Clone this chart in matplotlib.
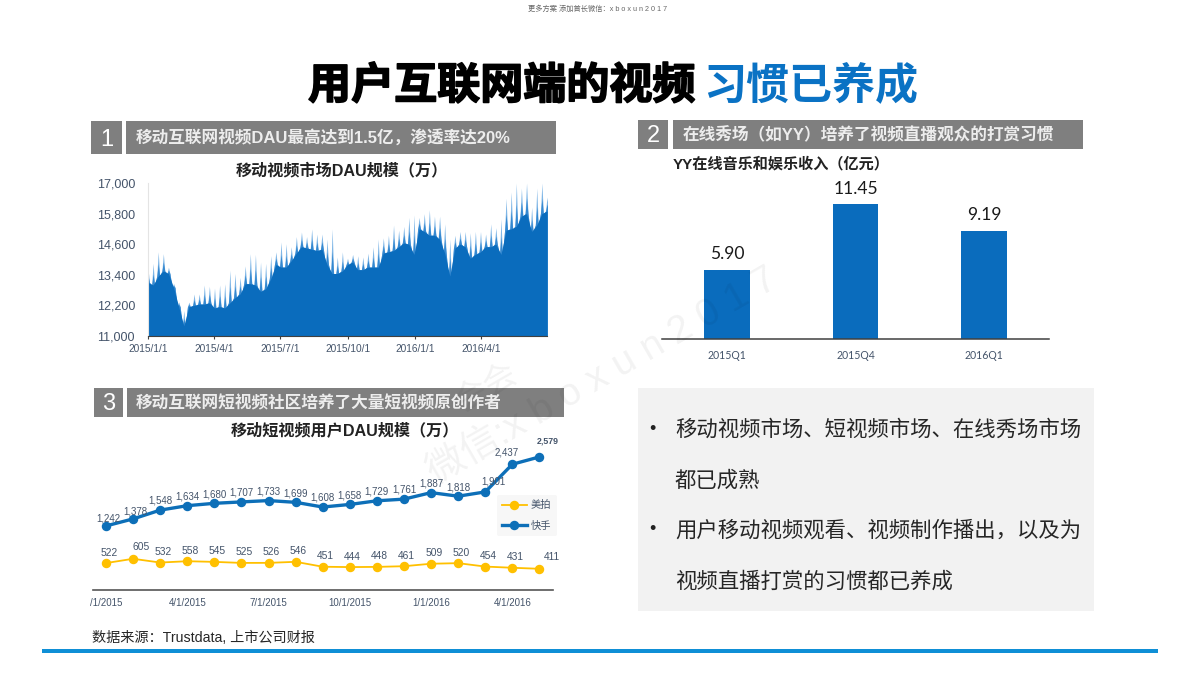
import matplotlib
matplotlib.use("Agg")
import matplotlib.pyplot as plt
import matplotlib.patheffects as pe
from matplotlib.patches import Rectangle
import numpy as np
import pandas as pd

plt.rcParams['font.family'] = ['Liberation Sans', 'Noto Sans CJK SC', 'DejaVu Sans']

# chart 1, weekly top and bottom of the DAU band
dau_high = [13650,13850,14300,14230,13700,13060,12340,12000,12330,12650,
            12650,13000,12950,12880,13000,13050,13580,13450,13300,13750,
            14230,14200,13900,13850,14150,14300,14690,14620,14500,14900,
            15080,14900,15200,15000,15000,14800,15200,14100,14300,14050,
            14200,14150,14100,14250,14500,14800,14850,14950,15350,15150,
            15300,15650,15750,15650,15800,15950,15700,15700,15400,14800,
            14950,15100,15100,15050,15100,15100,15000,15400,15250,15600,
            16400,16650,17000,16800,17000,16050,16800,17000,16450]
dau_low = [13100,13000,13350,13550,13450,12900,12150,11400,12150,12200,
           12250,12250,12300,12100,12150,12100,12300,12500,12650,13050,
           13050,13000,12750,12850,13250,13800,13700,13700,13950,14250,
           14500,14450,14400,14350,14400,13800,13450,13450,13550,13800,
           13900,13600,13600,13700,13700,13700,14250,14300,14350,14500,
           14650,14600,14200,15200,15100,14950,14950,14800,14250,13350,
           14450,14600,14500,14050,14200,14300,14500,14500,14600,14200,
           15150,15200,15300,15700,15800,15100,15350,15800,15900]
dau_yticks = [11000,12200,13400,14600,15800,17000]
dau_xticks = ['2015-01-01','2015-04-01','2015-07-01','2015-10-01','2016-01-01','2016-04-01']
dau_xlabels = ['2015/1/1','2015/4/1','2015/7/1','2015/10/1','2016/1/1','2016/4/1']

# chart 2
yy_quarters = ['2015Q1','2015Q4','2016Q1']
yy_income = [5.90,11.45,9.19]

# chart 3
kuaishou = [1242,1378,1548,1634,1680,1707,1733,1699,1608,1658,1729,1761,1887,1818,1901,2437,2579]
meipai = [522,605,532,558,545,525,526,546,451,444,448,461,509,520,454,431,411]
month_ticks = [0,3,6,9,12,15]
month_labels = ['/1/2015','4/1/2015','7/1/2015','10/1/2015','1/1/2016','4/1/2016']

bullets = [['移动视频市场、短视频市场、在线秀场市场','都已成熟'],
           ['用户移动视频观看、视频制作播出，以及为','视频直播打赏的习惯都已养成']]

BLUE = '#0a6cbd'
GREY = '#7f7f7f'
SLATE = '#44546a'

fig = plt.figure(figsize=(12,6.75), dpi=100)

def px_axes(left, top, right, bottom):
    ax = fig.add_axes([left/1200, 1-bottom/675, (right-left)/1200, (bottom-top)/675])
    ax.patch.set_alpha(0)
    return ax

##################   page   ##################

bg = fig.add_axes([0,0,1,1])
bg.set_xlim(0,1200)
bg.set_ylim(675,0)
bg.axis('off')

bg.text(598,9,'更多方案 添加首长微信：x b o x u n 2 0 1 7',fontsize=5.2,color='#666666',ha='center',va='center')
t = bg.text(308,87,'用户互联网端的视频',fontsize=31,fontweight='bold',color='black',va='center')
t.set_path_effects([pe.withStroke(linewidth=1.2,foreground='black')])
bg.text(703,87,'习惯已养成',fontsize=31,fontweight='bold',color='#0a72c4',va='center')

headers = [(91,122,126,556,121,154,'1','移动互联网视频DAU最高达到1.5亿，渗透率达20%',136),
           (638,668,673,1083,120,149,'2','在线秀场（如YY）培养了视频直播观众的打赏习惯',683),
           (94,123,127,564,388,417,'3','移动互联网短视频社区培养了大量短视频原创作者',136)]
for x0,x1,x2,x3,y0,y1,num,label,tx in headers:
    bg.add_patch(Rectangle((x0,y0),x1-x0,y1-y0,color=GREY,lw=0))
    bg.add_patch(Rectangle((x2,y0),x3-x2,y1-y0,color=GREY,lw=0))
    bg.text((x0+x1)/2,(y0+y1)/2+2,num,fontsize=17,color='white',ha='center',va='center')
    bg.text(tx,(y0+y1)/2+1,label,fontsize=12,fontweight='bold',color='#ededed',va='center')

bg.add_patch(Rectangle((638,388),456,223,color='#f2f2f2',lw=0))
line_y = [429,480,530,581]
i = 0
for block in bullets:
    bg.text(652,line_y[i],'•',fontsize=13,color='#222222',ha='center',va='center')
    for line in block:
        bg.text(675,line_y[i],line,fontsize=15.4,color='#262626',va='center')
        i += 1

bg.text(92,638,'数据来源：Trustdata, 上市公司财报',fontsize=10.2,color='#262626',va='center')
bg.add_patch(Rectangle((42,649),1116,4,color='#0f8fd6',lw=0))

##################   chart 1   ##################

ax1 = px_axes(148,183,547,336)
weeks = pd.date_range('2015-01-01',periods=len(dau_high),freq='7D')
# each week is a narrow spike standing on the band's floor
spike_x = np.repeat(weeks.values,3) + np.tile(np.array([-48,0,48],dtype='timedelta64[h]'),len(weeks))
spike_y = np.column_stack([dau_low,dau_high,dau_low]).ravel()
spike_mid = np.column_stack([dau_low,(np.array(dau_low)+np.array(dau_high))/2,dau_low]).ravel()
ax1.fill_between(spike_x,11000,spike_y,color='#7fb6e6',lw=0)
ax1.fill_between(spike_x,11000,spike_mid,color='#3488d0',lw=0)
ax1.fill_between(weeks,11000,dau_low,color=BLUE,lw=0)
ax1.set_xlim(weeks[0],weeks[-1])
ax1.set_ylim(11000,17000)
ax1.set_yticks(dau_yticks)
ax1.set_yticklabels([f'{v:,}' for v in dau_yticks],fontsize=9,color=SLATE)
ax1.set_xticks(pd.to_datetime(dau_xticks))
ax1.set_xticklabels(dau_xlabels,fontsize=7.3,color=SLATE)
ax1.tick_params(axis='y',length=0,pad=9.4)
ax1.tick_params(axis='x',length=2,width=0.8,color='#404040',pad=4)
ax1.spines[['top','right']].set_visible(False)
ax1.spines['left'].set_color('#e4e4e4')
ax1.spines['bottom'].set_color('#404040')
bg.text(342,170,'移动视频市场DAU规模（万）',fontsize=11.6,fontweight='bold',color='#222222',ha='center',va='center')

##################   chart 2   ##################

ax2 = px_axes(662,175,1049,339)
ax2.bar(range(3),yy_income,width=0.358,color=BLUE)
ax2.set_xlim(-0.506,2.506)
ax2.set_ylim(0,13.96)
ax2.set_xticks(range(3))
ax2.set_xticklabels(yy_quarters,fontsize=7.6,color=SLATE,family=['Lato','DejaVu Sans'])
ax2.set_yticks([])
ax2.tick_params(axis='x',length=0,pad=8)
ax2.spines[['top','right','left']].set_visible(False)
ax2.spines['bottom'].set_color('#404040')
ax2.spines['bottom'].set_linewidth(1.1)
for i,v in enumerate(yy_income):
    ax2.annotate(f'{v:.2f}',(i,v),xytext=(0,5.5),textcoords='offset points',ha='center',va='bottom',
                 fontsize=12.6,color='#1a1a1a',family=['Lato','DejaVu Sans'])
bg.text(673,164,'YY在线音乐和娱乐收入（亿元）',fontsize=10.9,fontweight='bold',color='#222222',va='center')

##################   chart 3   ##################

ax3 = px_axes(93,440,553,590)
months = list(range(len(kuaishou)))
ax3.plot(months,meipai,color='#ffc000',lw=1.3,marker='o',ms=5.8,label='美拍')
ax3.plot(months,kuaishou,color='#0d6fb8',lw=2.4,marker='o',ms=5.8,label='快手')
ax3.set_xlim(-0.48,16.5)
ax3.set_ylim(0,(590-440)/0.0516)
ax3.set_xticks(month_ticks)
ax3.set_xticklabels(month_labels,fontsize=7,color=SLATE)
ax3.set_yticks([])
ax3.tick_params(axis='x',length=0,pad=6)
ax3.spines[['top','right','left']].set_visible(False)
ax3.spines['bottom'].set_color('#555555')
ax3.spines['bottom'].set_linewidth(1.2)

# labels that do not sit straight above their point
k_shift = {0:(2,2),1:(2,2),14:(6,4),15:(-4,5),16:(6,8)}
m_shift = {1:(6,5),16:(9,5)}
for i,v in enumerate(kuaishou):
    dx,dy = k_shift.get(i,(0,3))
    ax3.annotate(f'{v:,}',(i,v),xytext=(dx,dy),textcoords='offset points',ha='center',va='bottom',
                 fontsize=7 if i<16 else 6.4,color=SLATE,fontweight='bold' if i==16 else 'normal',annotation_clip=False)
for i,v in enumerate(meipai):
    dx,dy = m_shift.get(i,(2,4))
    ax3.annotate(f'{v:,}',(i,v),xytext=(dx,dy),textcoords='offset points',ha='center',va='bottom',
                 fontsize=7.4,color=SLATE,annotation_clip=False)
ax3.legend(loc='upper left',bbox_to_anchor=((497-93)/460,(590-495)/150),frameon=True,facecolor='#f7f7f7',edgecolor='none',
           fontsize=7.4,labelcolor=SLATE,handlelength=2.4,borderpad=0.5,labelspacing=1.0,handletextpad=0.4,borderaxespad=0,framealpha=1)
bg.text(345,430,'移动短视频用户DAU规模（万）',fontsize=11.6,fontweight='bold',color='#222222',ha='center',va='center')

##################   watermark   ##################

wm = fig.add_axes([0,0,1,1],zorder=20)
wm.set_xlim(0,1200)
wm.set_ylim(675,0)
wm.axis('off')
wm.patch.set_alpha(0)
wm.text(430,476,'微信:x b o x u n 2 0 1 7',fontsize=28,color='black',alpha=0.05,rotation=30,rotation_mode='anchor',va='center')
wm.text(458,405,'会会',fontsize=24,color='black',alpha=0.05,rotation=30,rotation_mode='anchor',va='center')

fig.savefig('out.png',dpi=100)
